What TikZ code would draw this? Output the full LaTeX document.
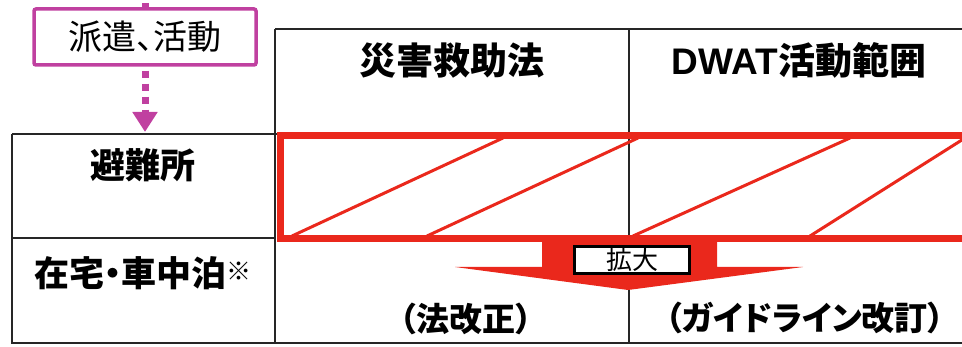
\documentclass[tikz,border=0pt]{standalone}
\usepackage{fontspec}
\setmainfont{Noto Sans CJK JP}[RawFeature=+palt]
\newfontfamily\latb{Liberation Sans}
\usetikzlibrary{arrows.meta}
\definecolor{mag}{RGB}{192,64,160}
\definecolor{hred}{RGB}{234,40,28}
\tikzset{
  tbl/.style={line width=2pt, draw=black!85},
  hatch/.style={draw=hred, line width=3pt},
  head/.style={font=\fontsize{37}{37}\selectfont\bfseries, inner sep=0pt},
  rowlab/.style={font=\fontsize{35}{35}\selectfont\bfseries, inner sep=0pt},
  foot/.style={font=\fontsize{33}{33}\selectfont\bfseries, inner sep=0pt},
  magbox/.style={draw=mag, line width=3.5pt, rounded corners=2pt, minimum width=222pt, minimum height=56pt, inner sep=0pt, font=\fontsize{34}{34}\selectfont},
  magdash/.style={draw=mag, line width=7pt, dash pattern=on 7pt off 6pt},
  kakudai/.style={draw=black, line width=3pt, fill=white, minimum width=115pt, minimum height=27pt, inner sep=0pt, font=\fontsize{26}{26}\selectfont}
}
\begin{document}
\begin{tikzpicture}[x=1pt,y=-1pt]
\useasboundingbox (0,0) rectangle (962,347);
\clip (0,0) rectangle (962,347);
% table
\draw[tbl] (275,29) -- (970,29);
\draw[tbl] (12,134) -- (970,134);
\draw[tbl] (12,134) -- (12,343) -- (970,343);
\draw[tbl] (12,238) -- (275,238);
\draw[tbl] (275,29) -- (275,343);
\draw[tbl] (629,29) -- (629,343);
% red hatched rectangle
\draw[hatch] (292,236) -- (503,138);
\draw[hatch] (427,236) -- (638,138);
\draw[hatch] (633,236) -- (850,138);
\draw[hatch] (810,236) -- (965,138);
\draw[draw=hred, line width=7pt] (280.5,135.5) rectangle (990,238.5);
% big arrow
\fill[hred] (542,239) -- (717,239) -- (717,267) -- (803,267) -- (628,290) -- (455,267) -- (542,267) -- cycle;
\node[kakudai] (kd) at (632,260) {拡大};
% texts
\node[head] (h1) at (452,61) {災害救助法};
\node[head] (h2) at (799,60) {{\latb DWAT}活動範囲};
\node[rowlab] (r1) at (143,165) {避難所};
\node[rowlab] (r2) at (143,273) {在宅・車中泊\raisebox{6pt}{\fontsize{25}{25}\selectfont ※}};
\node[foot] (b1) at (466,319) {（法改正）};
\node[foot] (b2) at (805,318) {（ガイドライン改訂）};
% dispatch box and arrow
\node[magbox] (disp) at (145,37) {派遣、活動};
\coordinate (top) at (145,-10);
\coordinate (shelter) at (145,132);
\draw[magdash] (top) -- (disp.north);
\draw[magdash, -{Triangle[width=24pt,length=20pt]}, shorten <=4pt] (disp.south) -- (shelter);
\end{tikzpicture}
\end{document}
